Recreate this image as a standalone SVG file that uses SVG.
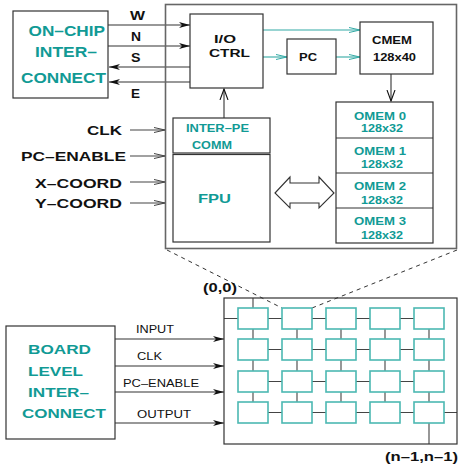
<svg xmlns="http://www.w3.org/2000/svg" width="459" height="467" viewBox="0 0 459 467">
<style>
  .box{fill:#fff;stroke:#333;stroke-width:1.2}
  .chip{fill:none;stroke:#666;stroke-width:1.6}
  .cell{fill:#fff;stroke:#4cb8b2;stroke-width:1.6}
  .ln{fill:none;stroke:#333;stroke-width:1.1}
  .gl{fill:none;stroke:#444;stroke-width:1.1}
  .tl{fill:none;stroke:#33aaa5;stroke-width:1.1}
  .dash{fill:none;stroke:#333;stroke-width:1;stroke-dasharray:4 4}
  text{font-family:"Liberation Sans",Arial,sans-serif;font-weight:bold}
  .tq{fill:#119a95}
  .bk{fill:#111}
  .rg{font-weight:normal;fill:#111}
</style>
<defs>
  <marker id="ab" markerUnits="userSpaceOnUse" markerWidth="12" markerHeight="8" refX="11" refY="4" orient="auto">
    <path d="M0,1 L11,4 L0,7 L3,4 z" fill="#111"/>
  </marker>
  <marker id="ag" markerUnits="userSpaceOnUse" markerWidth="12" markerHeight="8" refX="11" refY="4" orient="auto">
    <path d="M0,1.5 L11,4 L0,6.5" fill="none" stroke="#444" stroke-width="1"/>
  </marker>
  <marker id="at" markerUnits="userSpaceOnUse" markerWidth="12" markerHeight="8" refX="11" refY="4" orient="auto">
    <path d="M0,1.5 L11,4 L0,6.5" fill="none" stroke="#33aaa5" stroke-width="1"/>
  </marker>
  <marker id="av" markerUnits="userSpaceOnUse" markerWidth="10" markerHeight="12" refX="5" refY="11" orient="0">
    <path d="M1,0 L5,11 L9,0" fill="none" stroke="#111" stroke-width="1.1"/>
  </marker>
  <marker id="au" markerUnits="userSpaceOnUse" markerWidth="10" markerHeight="12" refX="5" refY="1" orient="0">
    <path d="M1,12 L5,1 L9,12" fill="none" stroke="#111" stroke-width="1.1"/>
  </marker>
</defs>

<!-- Connectors -->
<g id="connectors">
  <line class="ln" x1="108" y1="25" x2="190" y2="25" marker-end="url(#ab)"/>
  <line class="ln" x1="108" y1="46" x2="190" y2="46" marker-end="url(#ab)"/>
  <line class="ln" x1="190" y1="67" x2="109" y2="67" marker-end="url(#ab)"/>
  <line class="ln" x1="190" y1="82" x2="109" y2="82" marker-end="url(#ab)"/>
  <line class="tl" x1="263" y1="30" x2="360" y2="30" marker-end="url(#at)"/>
  <line class="tl" x1="263" y1="57" x2="287" y2="57" marker-end="url(#at)"/>
  <line class="tl" x1="336" y1="57" x2="360" y2="57" marker-end="url(#at)"/>
  <line class="ln" x1="391" y1="74" x2="391" y2="101" marker-end="url(#av)"/>
  <line class="ln" x1="224" y1="118" x2="224" y2="89" marker-end="url(#au)"/>
  <line class="gl" x1="130" y1="130" x2="165" y2="130" marker-end="url(#ag)"/>
  <line class="gl" x1="130" y1="156" x2="165" y2="156" marker-end="url(#ag)"/>
  <line class="gl" x1="130" y1="182" x2="165" y2="182" marker-end="url(#ag)"/>
  <line class="gl" x1="130" y1="203" x2="165" y2="203" marker-end="url(#ag)"/>
  <line class="dash" x1="167" y1="250" x2="282" y2="308"/>
  <line class="dash" x1="457" y1="250" x2="312" y2="308"/>
  <line class="ln" x1="115" y1="339" x2="224" y2="339" marker-end="url(#ab)"/>
  <line class="ln" x1="115" y1="366" x2="224" y2="366" marker-end="url(#ab)"/>
  <line class="ln" x1="115" y1="392" x2="224" y2="392" marker-end="url(#ab)"/>
  <line class="ln" x1="115" y1="423" x2="224" y2="423" marker-end="url(#ab)"/>
  <!-- mesh -->
  <g class="gl">
    <path d="M224,318.5H238 M268,318.5H282 M312,318.5H326 M356,318.5H370 M400,318.5H414"/>
    <path d="M268,349.5H282 M312,349.5H326 M356,349.5H370 M400,349.5H414"/>
    <path d="M268,381.5H282 M312,381.5H326 M356,381.5H370 M400,381.5H414"/>
    <path d="M268,412.5H282 M312,412.5H326 M356,412.5H370 M400,412.5H414 M444,412.5H457"/>
    <path d="M253,298V308 M253,329V339 M253,360V371 M253,392V402"/>
    <path d="M297,329V339 M297,360V371 M297,392V402"/>
    <path d="M341,329V339 M341,360V371 M341,392V402"/>
    <path d="M385,329V339 M385,360V371 M385,392V402"/>
    <path d="M429,329V339 M429,360V371 M429,392V402 M429,423V444"/>
  </g>
</g>

<!-- On-chip interconnect -->
<g id="onchip">
  <rect class="box" x="13" y="11" width="95" height="87"/>
  <text class="tq" x="28.5" y="36" font-size="14" textLength="76.5" lengthAdjust="spacingAndGlyphs">ON–CHIP</text>
  <text class="tq" x="35" y="57" font-size="14" textLength="62" lengthAdjust="spacingAndGlyphs">INTER–</text>
  <text class="tq" x="21" y="83" font-size="14" textLength="85" lengthAdjust="spacingAndGlyphs">CONNECT</text>
</g>
<g id="dirlabels">
  <text class="bk" x="130" y="20" font-size="12" textLength="15" lengthAdjust="spacingAndGlyphs">W</text>
  <text class="bk" x="131" y="41" font-size="12" textLength="10" lengthAdjust="spacingAndGlyphs">N</text>
  <text class="bk" x="131" y="62" font-size="12" textLength="9.5" lengthAdjust="spacingAndGlyphs">S</text>
  <text class="bk" x="131" y="98" font-size="12" textLength="9" lengthAdjust="spacingAndGlyphs">E</text>
</g>

<!-- PE chip -->
<g id="chip">
  <rect class="chip" x="165.5" y="4.5" width="291" height="244"/>
</g>
<g id="ioctrl">
  <rect class="box" x="190" y="14" width="73" height="74"/>
  <text class="bk" x="214" y="43" font-size="11.5" textLength="22" lengthAdjust="spacingAndGlyphs">I/O</text>
  <text class="bk" x="209" y="57" font-size="11.5" textLength="41" lengthAdjust="spacingAndGlyphs">CTRL</text>
</g>
<g id="pc">
  <rect class="box" x="287" y="39" width="49" height="35"/>
  <text class="bk" x="299" y="61" font-size="10.5" textLength="18" lengthAdjust="spacingAndGlyphs">PC</text>
</g>
<g id="cmem">
  <rect class="box" x="360" y="22" width="73" height="52"/>
  <text class="bk" x="372" y="44" font-size="10" textLength="40" lengthAdjust="spacingAndGlyphs">CMEM</text>
  <text class="bk" x="373" y="61" font-size="10" textLength="43" lengthAdjust="spacingAndGlyphs">128x40</text>
</g>
<g id="interpe">
  <rect class="box" x="173" y="118" width="97" height="35"/>
  <text class="tq" x="186" y="132" font-size="10" textLength="63" lengthAdjust="spacingAndGlyphs">INTER–PE</text>
  <text class="tq" x="192" y="149" font-size="10" textLength="40" lengthAdjust="spacingAndGlyphs">COMM</text>
</g>
<g id="fpu">
  <rect class="box" x="173" y="154.5" width="97" height="87.5"/>
  <text class="tq" x="198" y="203" font-size="13.5" textLength="33" lengthAdjust="spacingAndGlyphs">FPU</text>
</g>
<g id="bus">
  <polygon points="275,193 290,177 290,183 319,183 319,177 334,193 319,208 319,203 290,203 290,208" fill="#fff" stroke="#333" stroke-width="1.1"/>
</g>
<g id="omem">
  <rect class="box" x="336" y="102" width="97" height="141"/>
  <line class="ln" x1="336" y1="138" x2="433" y2="138"/>
  <line class="ln" x1="336" y1="173" x2="433" y2="173"/>
  <line class="ln" x1="336" y1="208" x2="433" y2="208"/>
  <text class="tq" x="354" y="120" font-size="10" textLength="52" lengthAdjust="spacingAndGlyphs">OMEM 0</text>
  <text class="tq" x="361" y="132" font-size="10" textLength="42" lengthAdjust="spacingAndGlyphs">128x32</text>
  <text class="tq" x="354" y="155" font-size="10" textLength="52" lengthAdjust="spacingAndGlyphs">OMEM 1</text>
  <text class="tq" x="361" y="168" font-size="10" textLength="42" lengthAdjust="spacingAndGlyphs">128x32</text>
  <text class="tq" x="354" y="190" font-size="10" textLength="52" lengthAdjust="spacingAndGlyphs">OMEM 2</text>
  <text class="tq" x="361" y="204" font-size="10" textLength="42" lengthAdjust="spacingAndGlyphs">128x32</text>
  <text class="tq" x="354" y="225" font-size="10" textLength="52" lengthAdjust="spacingAndGlyphs">OMEM 3</text>
  <text class="tq" x="361" y="239" font-size="10" textLength="42" lengthAdjust="spacingAndGlyphs">128x32</text>
</g>
<g id="inputs">
  <text class="bk" x="87" y="135" font-size="13" textLength="35" lengthAdjust="spacingAndGlyphs">CLK</text>
  <text class="bk" x="21" y="161" font-size="13" textLength="105" lengthAdjust="spacingAndGlyphs">PC–ENABLE</text>
  <text class="bk" x="35" y="188" font-size="13" textLength="87" lengthAdjust="spacingAndGlyphs">X–COORD</text>
  <text class="bk" x="35" y="208" font-size="13" textLength="87" lengthAdjust="spacingAndGlyphs">Y–COORD</text>
</g>

<!-- Board level -->
<g id="board">
  <rect class="box" x="6" y="326" width="109" height="113"/>
  <text class="tq" x="28" y="354" font-size="13" textLength="63" lengthAdjust="spacingAndGlyphs">BOARD</text>
  <text class="tq" x="28" y="376" font-size="13" textLength="55" lengthAdjust="spacingAndGlyphs">LEVEL</text>
  <text class="tq" x="28" y="397" font-size="13" textLength="61" lengthAdjust="spacingAndGlyphs">INTER–</text>
  <text class="tq" x="22" y="418" font-size="13" textLength="84" lengthAdjust="spacingAndGlyphs">CONNECT</text>
</g>
<g id="boardlabels">
  <text class="rg" x="136" y="333" font-size="10" textLength="38" lengthAdjust="spacingAndGlyphs">INPUT</text>
  <text class="rg" x="137" y="360" font-size="10" textLength="25" lengthAdjust="spacingAndGlyphs">CLK</text>
  <text class="rg" x="123" y="387" font-size="10" textLength="76" lengthAdjust="spacingAndGlyphs">PC–ENABLE</text>
  <text class="rg" x="137" y="418" font-size="10" textLength="54" lengthAdjust="spacingAndGlyphs">OUTPUT</text>
</g>
<g id="array">
  <rect class="box" x="224" y="298" width="233" height="146" fill="none" style="fill:none"/>
  <text class="bk" x="203" y="292" font-size="12" textLength="34" lengthAdjust="spacingAndGlyphs">(0,0)</text>
  <text class="bk" x="385" y="461" font-size="12" textLength="73" lengthAdjust="spacingAndGlyphs">(n–1,n–1)</text>
</g>
<g id="pes">
  <rect class="cell" x="238" y="308" width="30" height="21"/><rect class="cell" x="282" y="308" width="30" height="21"/><rect class="cell" x="326" y="308" width="30" height="21"/><rect class="cell" x="370" y="308" width="30" height="21"/><rect class="cell" x="414" y="308" width="30" height="21"/>
  <rect class="cell" x="238" y="339" width="30" height="21"/><rect class="cell" x="282" y="339" width="30" height="21"/><rect class="cell" x="326" y="339" width="30" height="21"/><rect class="cell" x="370" y="339" width="30" height="21"/><rect class="cell" x="414" y="339" width="30" height="21"/>
  <rect class="cell" x="238" y="371" width="30" height="21"/><rect class="cell" x="282" y="371" width="30" height="21"/><rect class="cell" x="326" y="371" width="30" height="21"/><rect class="cell" x="370" y="371" width="30" height="21"/><rect class="cell" x="414" y="371" width="30" height="21"/>
  <rect class="cell" x="238" y="402" width="30" height="21"/><rect class="cell" x="282" y="402" width="30" height="21"/><rect class="cell" x="326" y="402" width="30" height="21"/><rect class="cell" x="370" y="402" width="30" height="21"/><rect class="cell" x="414" y="402" width="30" height="21"/>
</g>
</svg>
